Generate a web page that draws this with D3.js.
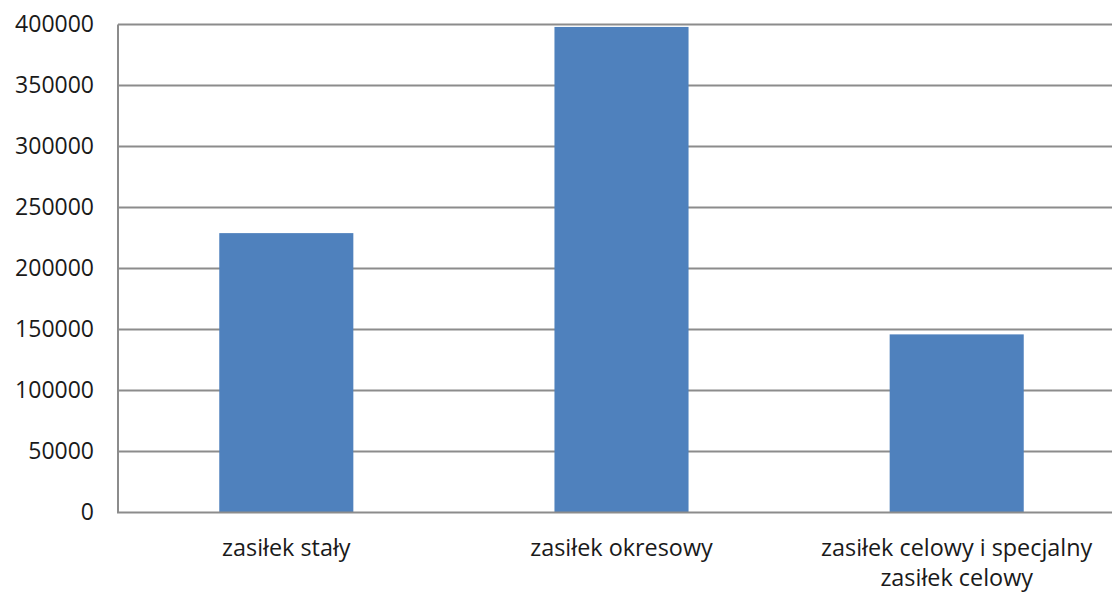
<!DOCTYPE html>
<html>
<head>
<meta charset="utf-8">
<script src="https://cdn.jsdelivr.net/npm/d3@7"></script>
<style>
  body { margin: 0; background: #fff; }
  svg { display: block; }
</style>
</head>
<body>
<script>
// chart data
var categories = ["zasiłek stały", "zasiłek okresowy", "zasiłek celowy i specjalny|zasiłek celowy"];
var values = [229000, 398000, 146000];
var yTicks = [0, 50000, 100000, 150000, 200000, 250000, 300000, 350000, 400000];

var width = 1112, height = 592;

var svg = d3.select("body").append("svg")
    .attr("width", width)
    .attr("height", height);

// scales
var x = d3.scaleBand()
    .domain(categories)
    .range([118.7, 1124.3])
    .paddingInner(0.6)
    .paddingOuter(0.3);

var y = d3.scaleLinear()
    .domain([0, 400000])
    .range([512.5, 24.5]);

// gridlines
svg.append("g")
    .attr("class", "grid")
  .selectAll("line")
  .data(yTicks.slice(1))
  .enter().append("line")
    .attr("x1", 118)
    .attr("x2", width)
    .attr("y1", function(d) { return y(d); })
    .attr("y2", function(d) { return y(d); })
    .attr("stroke", "#8c8c8c")
    .attr("stroke-width", 2);

// y axis
var yAxis = svg.append("g")
    .attr("transform", "translate(118,0)")
    .call(d3.axisLeft(y).tickValues(yTicks).tickSize(0).tickPadding(24).tickFormat(d3.format("d")));
yAxis.select(".domain").remove();
yAxis.selectAll("text")
    .attr("font-family", "Open Sans, sans-serif")
    .attr("font-size", 23)
    .attr("fill", "#1a1a1a");

// bars
svg.append("g")
    .attr("class", "bars")
  .selectAll("rect")
  .data(values)
  .enter().append("rect")
    .attr("x", function(d, i) { return x(categories[i]); })
    .attr("y", function(d) { return y(d); })
    .attr("width", x.bandwidth())
    .attr("height", function(d) { return y(0) - y(d); })
    .attr("fill", "#4f81bd");

// axis lines
svg.append("line")
    .attr("x1", 118).attr("x2", 118)
    .attr("y1", y(400000)).attr("y2", y(0))
    .attr("stroke", "#8c8c8c").attr("stroke-width", 2);
svg.append("line")
    .attr("x1", 117).attr("x2", width)
    .attr("y1", y(0)).attr("y2", y(0))
    .attr("stroke", "#8c8c8c").attr("stroke-width", 2);

// category labels
var labels = svg.append("g")
    .attr("class", "xlabels")
  .selectAll("text")
  .data(categories)
  .enter().append("text")
    .attr("x", function(d) { return x(d) + x.bandwidth() / 2; })
    .attr("y", 556)
    .attr("text-anchor", "middle")
    .attr("font-family", "Open Sans, sans-serif")
    .attr("font-size", 23.4)
    .attr("fill", "#1a1a1a");

labels.each(function(d) {
  var parts = d.split("|");
  var t = d3.select(this);
  parts.forEach(function(p, i) {
    t.append("tspan")
      .attr("x", t.attr("x"))
      .attr("dy", i === 0 ? 0 : 30)
      .text(p);
  });
});
</script>
</body>
</html>
